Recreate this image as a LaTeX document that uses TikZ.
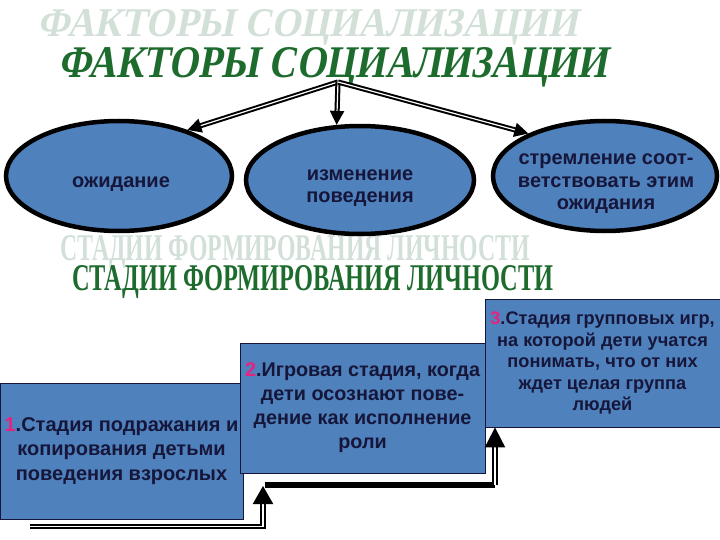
\documentclass[tikz,border=0pt]{standalone}
\usepackage{fontspec}
\setmainfont{Liberation Sans}
\newfontfamily\headfont{Liberation Serif}[UprightFont=*/B,FakeSlant=0.22]
\newfontfamily\stagehead{Liberation Serif}[UprightFont=*/B]
\usetikzlibrary{shapes.geometric,arrows.meta}
\definecolor{ovalblue}{HTML}{4F81BD}
\definecolor{inkblue}{HTML}{16163A}
\definecolor{headgreen}{HTML}{1E6B2E}
\definecolor{shadegreen}{HTML}{D2E0D8}
\definecolor{stagepink}{HTML}{E8227F}

\begin{document}
\begin{tikzpicture}[x=1pt,y=-1pt,
  oval/.style={ellipse,fill=ovalblue,draw=black,line width=4.5pt,inner sep=0pt},
  ovaltext/.style={text=inkblue,align=center,inner sep=0pt,font=\fontsize{20}{22.5}\selectfont\bfseries},
  stagebox/.style={rectangle,fill=ovalblue,draw=inkblue,line width=.8pt,text=inkblue,align=center,inner sep=0pt},
  link/.style={draw=black,double=white,line width=2pt,double distance=1.2pt,-{Triangle[length=14pt,width=14pt]}}]
  \useasboundingbox (0,0) rectangle (720,540);
  \newcommand{\stageno}[1]{{\color{stagepink}#1}}
  % Titles: a pale copy behind, the green one in front.
  \node[anchor=base west,inner sep=0pt,text=shadegreen] (factorsshade) at (37,37)
    {\resizebox{540pt}{27pt}{\headfont ФАКТОРЫ СОЦИАЛИЗАЦИИ}};
  \node[anchor=base west,inner sep=0pt,text=headgreen] (factors) at (58,78)
    {\resizebox{549pt}{30pt}{\headfont ФАКТОРЫ СОЦИАЛИЗАЦИИ}};
  \node[anchor=base west,inner sep=0pt,text=shadegreen] (stagesshade) at (60,260)
    {\resizebox{470pt}{25pt}{\stagehead СТАДИИ ФОРМИРОВАНИЯ ЛИЧНОСТИ}};
  % Three factors.
  \node[oval,minimum width=226pt,minimum height=110pt] (expect) at (119,176) {};
  \node[oval,minimum width=228pt,minimum height=108pt] (change) at (360,180) {};
  \node[oval,minimum width=224pt,minimum height=110pt] (strive) at (605,176) {};
  \node[ovaltext] (expecttext) at (121,184) {ожидание};
  \node[ovaltext] (changetext) at (360,188) {изменение\\поведения};
  \node[ovaltext] (strivetext) at (606,184) {стремление соот-\\ветствовать этим\\ожидания};
  \node[anchor=base west,inner sep=0pt,text=headgreen] (stages) at (72,290)
    {\resizebox{481pt}{25pt}{\stagehead СТАДИИ ФОРМИРОВАНИЯ ЛИЧНОСТИ}};
  \coordinate (hub) at (338,82);
  \draw[link] (hub) -- (expect.34);
  \draw[link] (hub) -- (change.113);
  \draw[link] (hub) -- (strive.151);
  % Three stages, each one step higher.
  \node[stagebox,minimum width=243pt,minimum height=136pt,font=\fontsize{20}{24.5}\selectfont\bfseries] (stageone) at (121.5,451)
    {\stageno{1}.Стадия подражания и\\копирования детьми\\поведения взрослых};
  \node[stagebox,minimum width=245pt,minimum height=130pt,font=\fontsize{19.8}{24}\selectfont\bfseries] (stagetwo) at (362.5,408)
    {\stageno{2}.Игровая стадия, когда\\дети осознают пове-\\дение как исполнение\\роли};
  \node[stagebox,minimum width=235pt,minimum height=128pt,font=\fontsize{18.2}{21.5}\selectfont\bfseries] (stagethree) at (602.5,363)
    {\stageno{3}.Стадия групповых игр,\\на которой дети учатся\\понимать, что от них\\ждет целая группа\\людей};
  \coordinate (stepa) at (30,526.5);
  \coordinate (stepb) at (263,486);
  \coordinate (stepd) at (265,485);
  \coordinate (stepc) at (495,485);
  \draw[link,-{Triangle[length=18pt,width=20pt]}] (stepa) -| (stepb);
  \draw[line width=6pt] (stepd) -- (stepc);
  \draw[link,-{Triangle[length=20pt,width=20pt]}] (stepc) -- (stepc |- stagethree.south);
\end{tikzpicture}
\end{document}
